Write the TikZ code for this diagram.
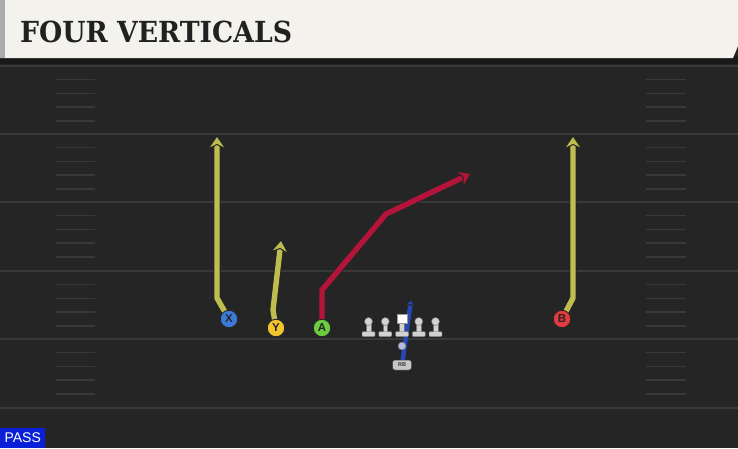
\documentclass[tikz,border=0pt]{standalone}
\usepackage{fontspec}
\setmainfont{Liberation Sans}
\newfontfamily\titlefont{DejaVu Serif}
\usetikzlibrary{positioning}

\definecolor{turf}{HTML}{252525}
\definecolor{turfline}{HTML}{393939}
\definecolor{banner}{HTML}{F4F2EC}
\definecolor{vertcol}{HTML}{BDBD50}
\definecolor{postcol}{HTML}{B5143A}
\definecolor{rbcol}{HTML}{2647B8}
\definecolor{xcol}{HTML}{3C7BDB}
\definecolor{ycol}{HTML}{F3C52D}
\definecolor{acol}{HTML}{6CCB3E}
\definecolor{bcol}{HTML}{E23A3F}
\definecolor{olcol}{HTML}{D2D2D2}
\definecolor{passcol}{HTML}{0A20D8}

\pgfdeclarelayer{field}
\pgfdeclarelayer{routes}
\pgfsetlayers{field,routes,main}

\tikzset{
  lineman/.pic={
    \fill[olcol, draw=black!55, line width=0.4pt] (-2.4,1) rectangle (2.4,11);
    \fill[olcol, draw=black!55, line width=0.4pt, rounded corners=1pt] (-6.5,10.5) rectangle (6.5,15.5);
    \fill[olcol, draw=black!55, line width=0.4pt] (0,0.5) circle (4);
  },
  center/.pic={
    \fill[olcol, draw=black!55, line width=0.4pt] (-2.4,1) rectangle (2.4,11);
    \fill[olcol, draw=black!55, line width=0.4pt, rounded corners=1pt] (-6.5,10.5) rectangle (6.5,15.5);
    \fill[white, draw=black!40, line width=0.4pt] (-5,-6.5) rectangle (5,2.5);
  },
  % chevron head, point at the origin, facing along the path
  tip/.pic={
    \filldraw[fill=#1, draw=black!85, line width=1pt, line join=miter]
      (1,0) -- (-12,9) -- (-7.5,0) -- (-12,-9) -- cycle;
  }
}

\begin{document}
\begin{tikzpicture}[x=1pt, y=-1pt, line cap=round,
    node distance=16.75pt, on grid,
    player/.style={circle, draw=black!85, line width=0.9pt, fill=#1,
                   minimum size=17.5pt, inner sep=0pt, text=black!85,
                   font=\fontsize{11.5}{11.5}\selectfont\bfseries},
    route/.style={draw=#1, line width=5.4pt, line join=round, shorten >=7pt,
                  preaction={draw=black!85, line width=7.4pt}},
    hash/.style={turfline, line width=1.5pt}]
\useasboundingbox (0,0) rectangle (738,448);

% field
\begin{pgfonlayer}{field}
\fill[turf] (0,0) rectangle (738,448);
\fill[black!90] (0,56) rectangle (738,64);
\foreach \yl in {66,134,202,271,339,408}{
  \draw[turfline, line width=2pt] (0,\yl) -- (738,\yl);
  \ifnum\yl<400
  \foreach \k in {1,...,4}{
    \draw[hash] (56,\yl+13.7*\k) -- (95,\yl+13.7*\k);
    \draw[hash] (646,\yl+13.7*\k) -- (686,\yl+13.7*\k);
  }
  \fi
}
% banner
\fill[banner] (0,0) -- (738,0) -- (738,46) -- (733,58) -- (0,58) -- cycle;
\fill[black!33] (0,0) rectangle (5,58);
\end{pgfonlayer}

\node[anchor=west, inner sep=0pt, text=black!87] (title) at (20,32)
  {\scalebox{0.92}[1]{\titlefont\bfseries\fontsize{29}{29}\selectfont FOUR VERTICALS}};

% players
\node[player=xcol] (X) at (229,319) {X};
\node[player=ycol] (Y) at (276,328) {Y};
\node[player=acol] (A) at (322,328) {A};
\node[player=bcol] (B) at (562,319) {B};

% line
\coordinate (c) at (402,321);
\coordinate[left=of c] (lg);
\coordinate[left=of lg] (lt);
\coordinate[right=of c] (rg);
\coordinate[right=of rg] (rt);
\foreach \n in {lt,lg,rg,rt} \pic at (\n) {lineman};
\pic at (c) {center};

\node[circle, fill=black!12!rbcol!35!white, draw=black!60, line width=0.4pt,
      minimum size=8pt, inner sep=0pt] (qb) at (402,346) {};
\node[rounded corners=2.5pt, fill=black!22, draw=black!75, line width=0.5pt,
      minimum width=19pt, minimum height=10pt, inner sep=0pt,
      font=\fontsize{5.5}{5.5}\selectfont\bfseries, text=black!80] (rb) at (402,365) {RB};

% routes
\coordinate (xbend) at (217,298);
\coordinate (xend)  at (217,137);
\coordinate (ybend) at (273,310);
\coordinate (yend)  at (281,241);
\coordinate (abend) at (322,290);
\coordinate (abrk)  at (386,214);
\coordinate (aend)  at (470,174);
\coordinate (bbend) at (573,298);
\coordinate (bend)  at (573,137);
\coordinate (rbend) at (411,300);

\begin{pgfonlayer}{routes}
\draw[route=vertcol] (X.center) -- (xbend) -- (xend);
\draw[route=vertcol] (Y.center) -- (ybend) -- (yend);
\draw[route=postcol] (A.center) -- (abend) -- (abrk) -- (aend);
\draw[route=vertcol] (B.center) -- (bbend) -- (bend);
\draw[rbcol, line width=4.4pt, shorten >=4pt] (rb.center) -- (rbend);
% heads
\path (xbend) -- (xend) pic[pos=1, sloped] {tip=vertcol};
\path (ybend) -- (yend) pic[pos=1, sloped] {tip=vertcol};
\path (abrk)  -- (aend) pic[pos=1, sloped] {tip=postcol};
\path (bbend) -- (bend) pic[pos=1, sloped] {tip=vertcol};
\path (rb.center) -- (rbend) pic[pos=1, sloped, scale=0.6] {tip=rbcol};
\end{pgfonlayer}

% play tag
\node[fill=passcol, text=white, anchor=south west, minimum width=45pt,
      minimum height=20pt, inner sep=0pt, font=\fontsize{14}{14}\selectfont]
  (tag) at (0,448) {PASS};

\end{tikzpicture}
\end{document}
